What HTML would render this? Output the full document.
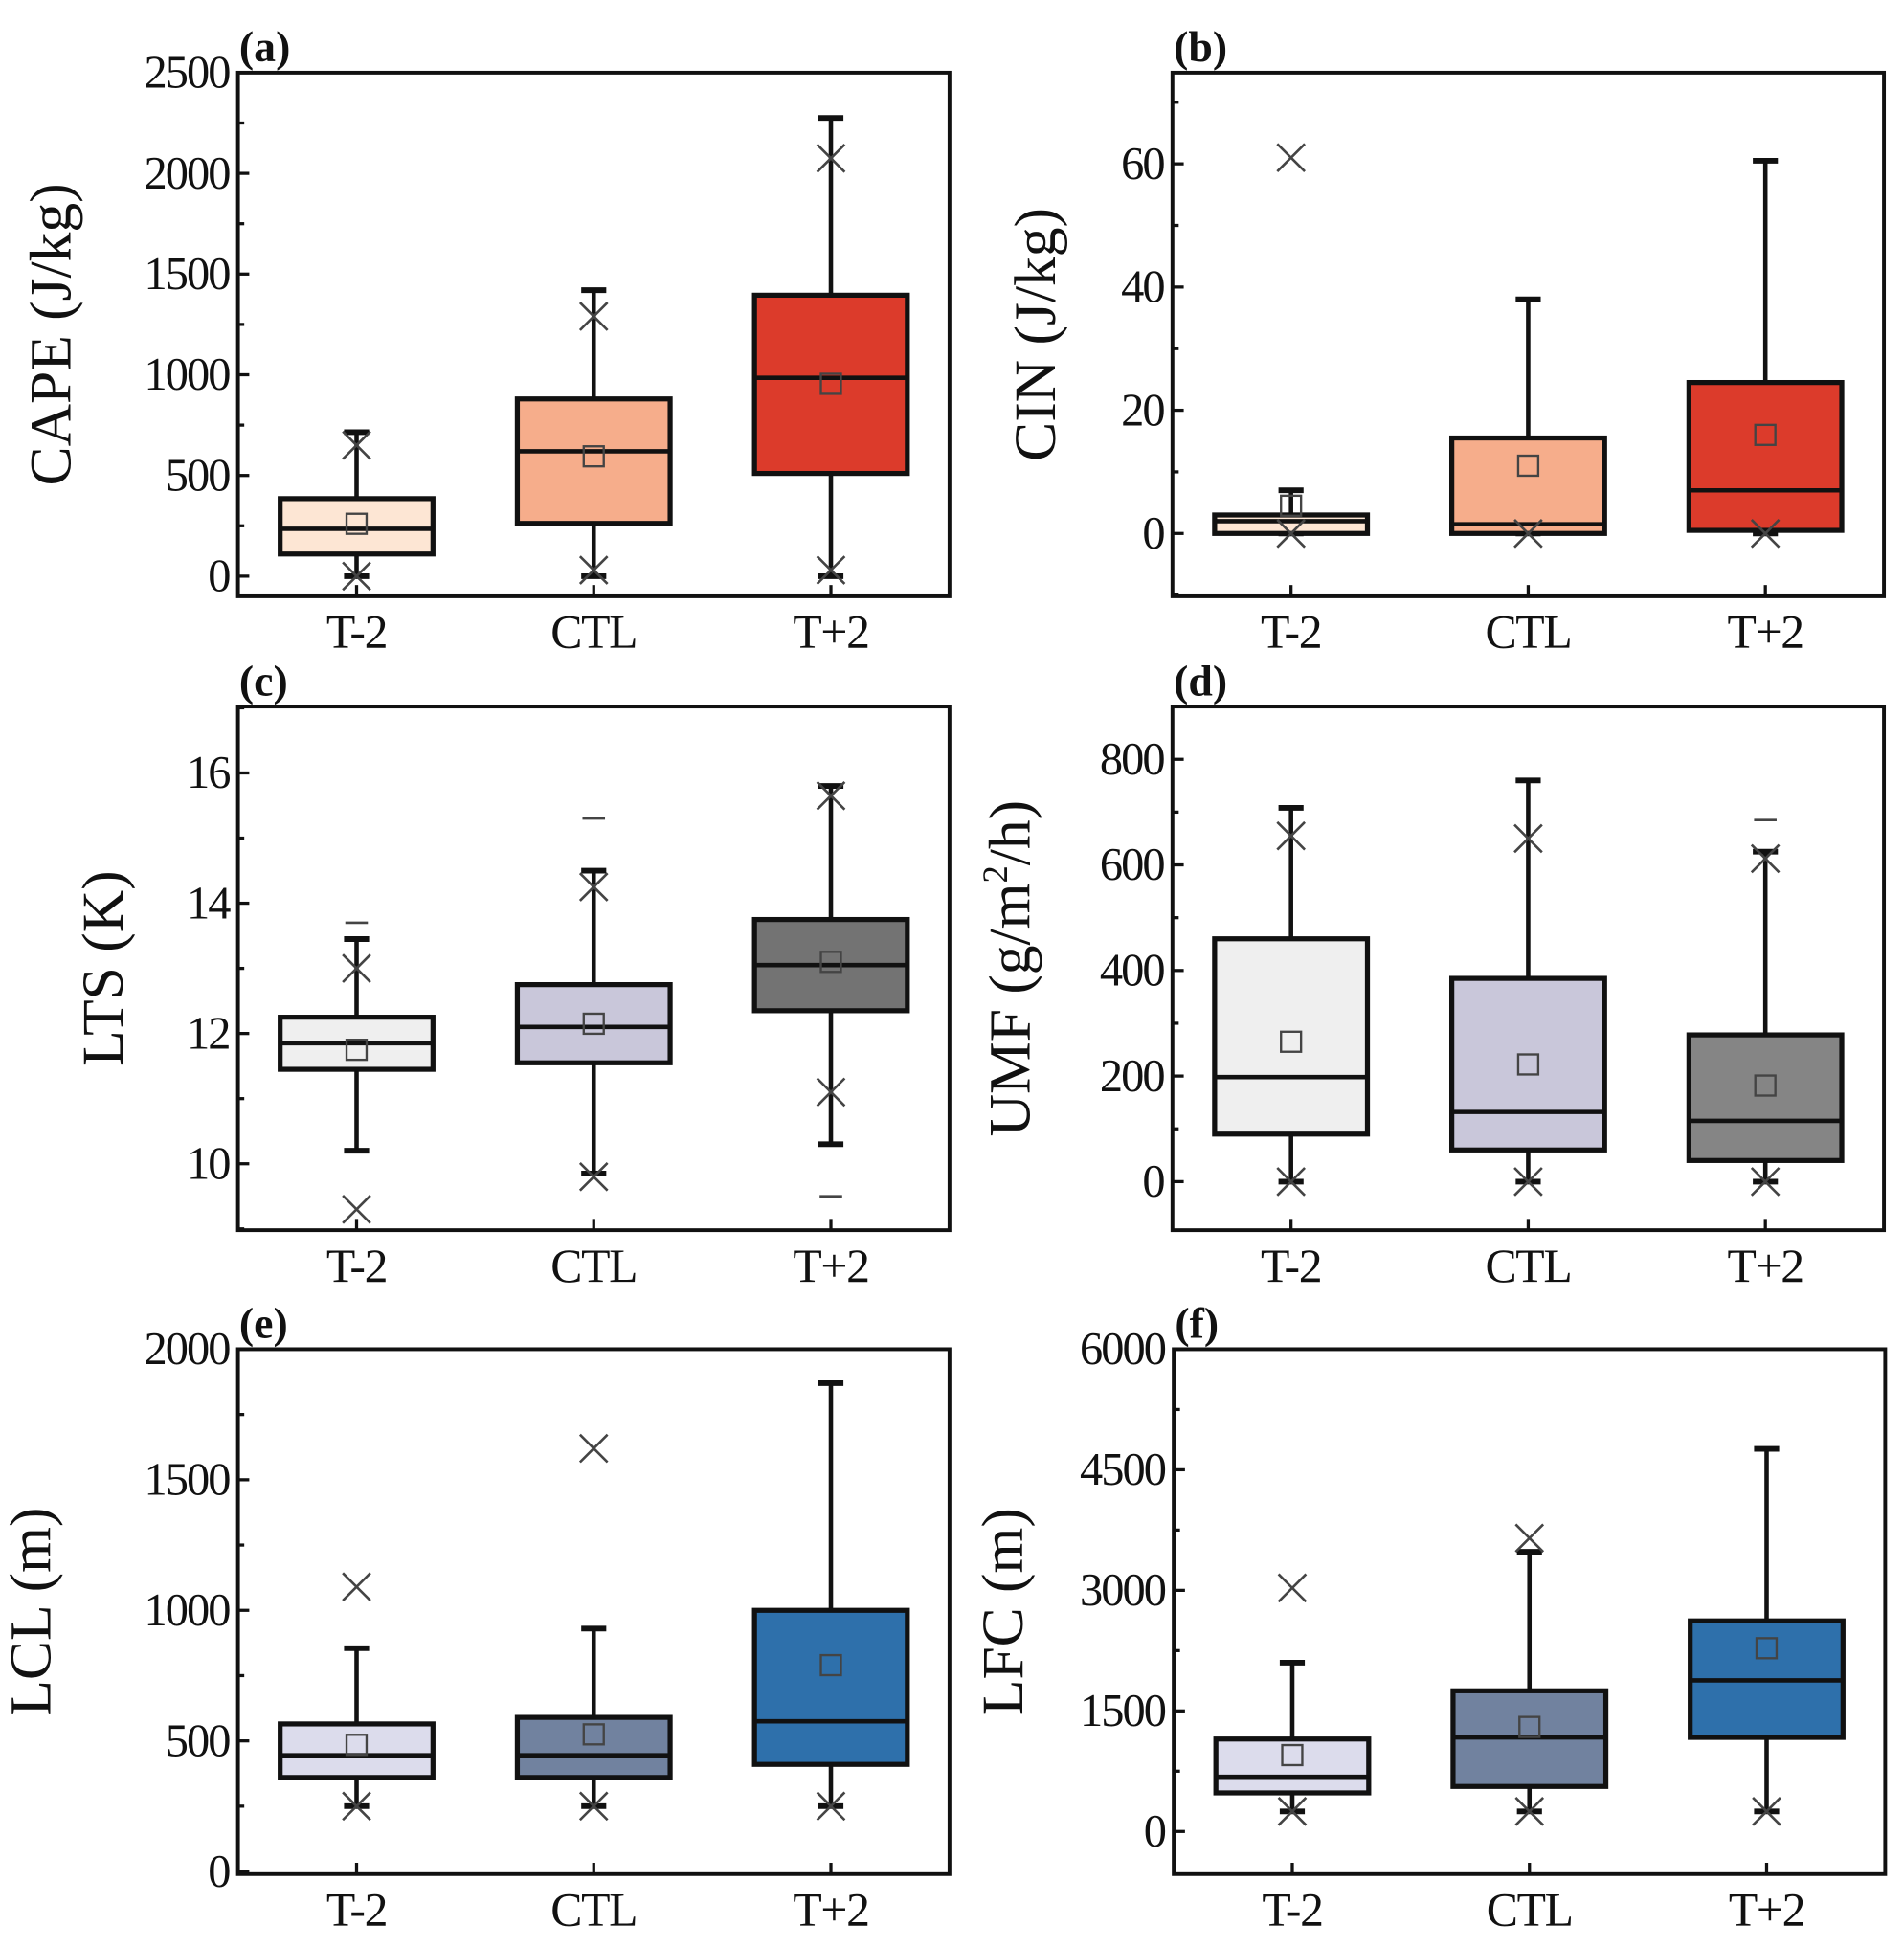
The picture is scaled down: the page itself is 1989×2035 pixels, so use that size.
<!DOCTYPE html>
<html><head><meta charset="utf-8"><style>
html,body{margin:0;padding:0;background:#fff;}
svg{display:block;}
text{font-family:"Liberation Serif",serif;fill:#111;}
</style></head><body>
<svg id="fig" width="1989" height="2035" viewBox="0 0 1520 1555" preserveAspectRatio="none" xmlns="http://www.w3.org/2000/svg"></svg>
<script>
const categories = ["T-2","CTL","T+2"];
// per panel: [low whisker, q1, median, q3, high whisker, mean]
const capeStats = [[0,110,235,385,715,260],[0,262,620,880,1420,595],[0,510,985,1395,2275,955]];
const capeOut = [[650,0],[1290,30],[2075,30]];
const capeDash = [[],[],[]];
const cinStats = [[0,0,2,3,7,4.5],[0,0,1.5,15.5,38,11],[0,0.5,7,24.5,60.5,16]];
const cinOut = [[61,0],[0],[0]];
const cinDash = [[],[],[]];
const ltsStats = [[10.2,11.45,11.85,12.25,13.45,11.75],[9.85,11.55,12.1,12.75,14.5,12.15],[10.3,12.35,13.05,13.75,15.8,13.1]];
const ltsOut = [[13.0,9.3],[14.25,9.8],[15.65,11.1]];
const ltsDash = [[13.7],[15.3],[9.5]];
const umfStats = [[0,90,198,460,708,265],[0,60,132,385,760,222],[0,40,115,278,625,182]];
const umfOut = [[655,0],[650,0],[612,0]];
const umfDash = [[],[],[685]];
const lclStats = [[250,360,445,565,855,485],[250,360,445,590,930,525],[250,410,575,1000,1870,790]];
const lclOut = [[1090,250],[1620,250],[250]];
const lclDash = [[],[],[]];
const lfcStats = [[250,480,680,1150,2100,950],[250,560,1170,1750,3480,1300],[250,1170,1880,2620,4760,2280]];
const lfcOut = [[3030,250],[3650,250],[250]];
const lfcDash = [[],[],[]];
const capeTicks = [0,500,1000,1500,2000,2500];
const cinTicks = [0,20,40,60];
const ltsTicks = [10,12,14,16];
const umfTicks = [0,200,400,600,800];
const lclTicks = [0,500,1000,1500,2000];
const lfcTicks = [0,1500,3000,4500,6000];

const NS="http://www.w3.org/2000/svg";
const svg=document.getElementById('fig');
function mk(tag,attrs,parent){const e=document.createElementNS(NS,tag);for(const k in attrs)e.setAttribute(k,attrs[k]);(parent||svg).appendChild(e);return e;}

const panels=[
 {id:'a',x0:190,x1:758,y0:58,y1:476,min:-100,max:2500,ticks:capeTicks,minor:250,stats:capeStats,out:capeOut,dash:capeDash,colors:['#fde6d4','#f6ad8b','#dc3b2b'],title:'CAPE (J/kg)',tx:56},
 {id:'b',x0:936,x1:1504,y0:58,y1:476,min:-10.2,max:74.8,ticks:cinTicks,minor:10,stats:cinStats,out:cinOut,dash:cinDash,colors:['#fde6d4','#f6ad8b','#dc3b2b'],title:'CIN (J/kg)',tx:842},
 {id:'c',x0:190,x1:758,y0:564,y1:982,min:8.98,max:17.02,ticks:ltsTicks,minor:1,stats:ltsStats,out:ltsOut,dash:ltsDash,colors:['#efefef','#c9c7da','#737373'],title:'LTS (K)',tx:98},
 {id:'d',x0:936,x1:1504,y0:564,y1:982,min:-92,max:900,ticks:umfTicks,minor:100,stats:umfStats,out:umfOut,dash:umfDash,colors:['#efefef','#c9c7da','#858585'],title:'UMF',tx:822},
 {id:'e',x0:190,x1:758,y0:1077,y1:1496,min:-10,max:2000,ticks:lclTicks,minor:250,stats:lclStats,out:lclOut,dash:lclDash,colors:['#dcdcec','#71829f','#2e70ab'],title:'LCL (m)',tx:40},
 {id:'f',x0:937,x1:1505,y0:1077,y1:1496,min:-530,max:6000,ticks:lfcTicks,minor:750,stats:lfcStats,out:lfcOut,dash:lfcDash,colors:['#dcdcec','#71829f','#2e70ab'],title:'LFC (m)',tx:816}
];

panels.forEach(p=>{
 const g=mk('g',{});
 
 
 const W=p.x1-p.x0;
 const xs=i=>p.x0+W*(i+0.5)/3;
 const ys=v=>p.y1-(v-p.min)/(p.max-p.min)*(p.y1-p.y0);
 for(let v=Math.ceil(p.min/p.minor)*p.minor; v<=p.max+1e-9; v+=p.minor){
   const y=ys(v);
   const isMajor=p.ticks.some(t=>Math.abs(t-v)<1e-6);
   const t=mk('line',{x1:p.x0,x2:p.x0+(isMajor?9:5),y1:y,y2:y,stroke:'#111','stroke-width':2.5},g);
   
   
 }
 p.ticks.forEach(v=>{
   const t=mk('text',{x:p.x0-7,y:ys(v)+12,'text-anchor':'end','font-size':37,'letter-spacing':'-1.5'},g);
   t.textContent=v;
   
   
 });
 categories.forEach((c,i)=>{
   const x=xs(i);
   const t=mk('line',{x1:x,x2:x,y1:p.y1,y2:p.y1-9,stroke:'#111','stroke-width':2.5},g);
   
   
   const l=mk('text',{x:x,y:p.y1+41,'text-anchor':'middle','font-size':38,'letter-spacing':'-1'},g);
   l.textContent=c;
   
   
   const s=p.stats[i];
   const bw=122, cw=20;
   const wl=mk('line',{x1:x,x2:x,y1:ys(s[0]),y2:ys(s[4]),stroke:'#111','stroke-width':3.5},g);
   
   
   [s[0],s[4]].forEach(v=>{
     const cap=mk('line',{x1:x-cw/2,x2:x+cw/2,y1:ys(v),y2:ys(v),stroke:'#111','stroke-width':4.5},g);
     
     
   });
   const b=mk('rect',{x:x-bw/2,y:ys(s[3]),width:bw,height:ys(s[1])-ys(s[3]),fill:p.colors[i],stroke:'#111','stroke-width':4},g);
   
   
   const m=mk('line',{x1:x-bw/2,x2:x+bw/2,y1:ys(s[2]),y2:ys(s[2]),stroke:'#111','stroke-width':3.5},g);
   
   
   const mn=mk('rect',{x:x-8,y:ys(s[5])-8,width:16,height:16,fill:'none',stroke:'#444','stroke-width':1.8},g);
   
   
   p.out[i].forEach(v=>{
     const y=ys(v);
     const o=mk('path',{d:`M${x-11} ${y-11}L${x+11} ${y+11}M${x+11} ${y-11}L${x-11} ${y+11}`,stroke:'#444','stroke-width':2,fill:'none'},g);
     
     
   });
   p.dash[i].forEach(v=>{
     const y=ys(v);
     const o=mk('line',{x1:x-9,x2:x+9,y1:y,y2:y,stroke:'#444','stroke-width':2},g);
     
     
   });
 });
 const fr=mk('rect',{x:p.x0,y:p.y0,width:W,height:p.y1-p.y0,fill:'none',stroke:'#111','stroke-width':3},g);
 
 
 const lab=mk('text',{x:p.x0+1,y:p.y0-9,'font-size':35,'font-weight':'bold'},g);
 lab.textContent='('+p.id+')';
 
 
 const cy=(p.y0+p.y1)/2;
 const tt=mk('text',{x:p.tx,y:cy,'text-anchor':'middle','font-size':47,transform:`rotate(-90 ${p.tx} ${cy})`},g);
 if(p.id==='d'){
   tt.textContent='UMF (g/m';
   const sup=mk('tspan',{'font-size':28,dy:-18},tt); sup.textContent='2';
   const rest=mk('tspan',{dy:18},tt); rest.textContent='/h)';
 } else tt.textContent=p.title;
 
 
});
</script>
</body></html>
